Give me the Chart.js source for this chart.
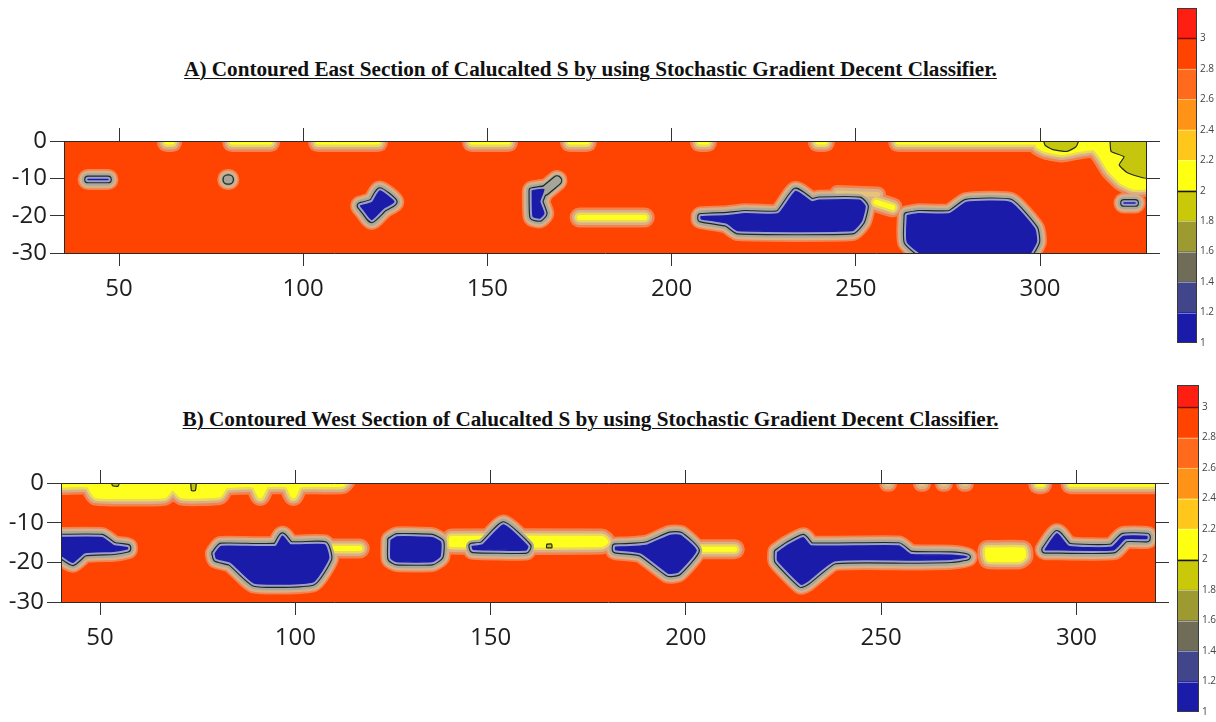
<!DOCTYPE html>
<html>
<head>
<meta charset="utf-8">
<script src="https://cdn.jsdelivr.net/npm/chart.js@4.4.1/dist/chart.umd.min.js"></script>
<style>
  html, body { margin: 0; padding: 0; background: #fff; width: 1216px; height: 722px; overflow: hidden; }
  canvas { position: absolute; }
  .title {
    position: absolute; left: 0; width: 1181px; text-align: center;
    font-family: 'Liberation Serif', 'Times New Roman', serif; font-weight: bold;
    font-size: 21.2px; line-height: 24px; color: #111;
    text-decoration: underline; text-decoration-thickness: 1px; text-underline-offset: 2px;
  }
</style>
</head>
<body>
<div class="title" style="top:57px">A) Contoured East Section of Calucalted S by using Stochastic Gradient Decent Classifier.</div>
<div class="title" style="top:407px">B) Contoured West Section of Calucalted S by using Stochastic Gradient Decent Classifier.</div>
<canvas id="east" width="1170" height="210" style="left:0;top:100px"></canvas>
<canvas id="west" width="1170" height="230" style="left:0;top:440px"></canvas>
<canvas id="eastBar" width="46" height="352" style="left:1170px;top:0"></canvas>
<canvas id="westBar" width="46" height="347" style="left:1170px;top:375px"></canvas>
<script>
// ---- section extents (distance along the line, depth) ----
const eastDistance = [35.07, 328.77];
const westDistance = [40.0, 320.1];
const depthRange = [-30, 0];
const distanceStep = 50;
const depthStep = 10;

// ---- East section: zones outlined as [distance, depth] rings or strokes ----
// S close to 1 (blue cores)
const eastLow = [
  [[41.6, -10.3], [47, -10.3]],
  [[115.6, -17.4], [118.8, -16.4], [120.8, -13.4], [124.6, -16.3], [121.8, -18], [118.6, -21], [116.6, -18.6]],
  [[162.2, -13.4], [165.3, -13], [164.2, -16.2], [165.3, -19.4], [164.2, -20.6], [162.4, -20.2]],
  [[208, -20.3], [215, -20], [220, -19.5], [229, -19.5], [233.7, -13.5], [238, -16.3], [240, -15.9],
   [251, -15.9], [252.5, -17.5], [251.5, -21.5], [249, -24], [218, -24], [215, -22], [208, -20.8]],
  [[264, -20], [267, -19.5], [275.5, -19.5], [280, -16.5], [292, -16.5], [298.5, -23.5], [299, -27],
   [296, -31.5], [270, -31.5], [264, -27]],
  [[322.8, -16.6], [325.8, -16.6]]
];
// S around 1.5 (grey spots)
const eastGrey = [
  [[79.5, -10.3], [79.8, -10.3]],
  [[165.6, -13.3], [168.9, -10.6]]
];
// S around 2 (yellow patches)
const eastMid = [
  [[63, -0.3], [64.4, -0.3]],
  [[80.7, -0.3], [91, -0.3]],
  [[104, -0.3], [120.3, -0.3]],
  [[145.8, -0.3], [155.6, -0.3]],
  [[172.4, -0.3], [177, -0.3]],
  [[207.7, -0.3], [209.6, -0.3]],
  [[239.7, -0.3], [241.6, -0.3]],
  [[261.5, -0.3], [300, -0.3]],
  [[175, -20.5], [192.7, -20.5]],
  [[255.5, -16.4], [260, -17.8]],
  [[299.5, 0.9], [329.3, 0.9], [329.3, -12], [325.3, -12.3], [322, -10.7], [319, -7.7], [316.6, -3.9],
   [314.7, -1.8], [310.3, -2.3], [306, -3.1], [301.6, -2.3], [299.5, -1.2]]
];
// S around 2.5 (pale rims)
const eastRim = [
  [[245, -13.9], [256, -14.3]]
];
// S between 1.8 and 2 (olive)
const eastOlive = [
  [[300.8, 0.9], [301.4, -1.2], [303.5, -2.3], [307.3, -2.8], [309.8, -1.5], [310.6, 0.9]],
  [[319, 0.9], [319.3, -2.8], [322.8, -4.2], [321.5, -6.4], [323.7, -8.5], [329.3, -9.9], [329.3, 0.9]]
];

// ---- West section ----
const westLow = [
  [[37, -13.8], [50.5, -13.8], [53.5, -15.8], [57, -16.3], [57, -16.6], [53.5, -17.2], [46, -17.6],
   [43, -20], [40, -18.2], [37, -17.8]],
  [[79.5, -17.8], [81, -16], [95, -16], [96.7, -13.4], [98.7, -15.6], [107.5, -15.6], [108.5, -19],
   [104.5, -24.9], [89.5, -25.2], [83.5, -20], [79.8, -19]],
  [[124.5, -14.5], [126, -13.6], [135, -13.8], [137.2, -15], [137, -18.5], [135, -19.8], [126, -19.8], [124.5, -19]],
  [[145.3, -16], [148, -15.6], [153.3, -10.6], [159.5, -16], [159, -16.9], [145.5, -16.7]],
  [[182, -16.2], [187, -16], [190.3, -15.6], [196, -13.2], [198.5, -13.2], [202.6, -17], [198, -22.4],
   [195.5, -22.7], [188.5, -17.6], [182, -16.8]],
  [[223.5, -17.5], [226, -15.8], [230, -13.8], [232, -15.9], [254.5, -15.9], [257.5, -18], [268, -18.2],
   [272, -18.6], [268, -19.2], [257.5, -19.4], [238, -19.6], [231, -24.8], [229.5, -25.5], [223.5, -19.5]],
  [[292, -16.8], [295, -12.8], [298, -16], [309, -16.2], [312, -13.5], [318, -13.5], [318, -14],
   [312.5, -14], [309.5, -16.8]]
];
const westGrey = [];
const westMid = [
  [[37, 1], [113, 1], [112, -0.3], [101, -0.5], [99.5, -3.3], [98, -0.5], [92.5, -0.5], [91, -3.3],
   [89.5, -0.5], [82, -0.8], [80.5, -3], [71, -3.2], [68.5, -1], [66.5, -3.2], [49, -3.2], [47, -0.5], [37, -0.5]],
  [[140, -14], [178.5, -14], [179.5, -14.8], [178.5, -15.5], [140, -15.5]],
  [[109, -16.5], [116.5, -16.5]],
  [[204, -16.7], [212.5, -16.7]],
  [[277.2, -16.9], [286.2, -16.9], [286.4, -18.5], [285.5, -19.2], [277.5, -19.2], [277.2, -18]],
  [[290.2, -0.3], [291.2, -0.3]],
  [[298.5, -0.3], [322, -0.3]]
];
const westRim = [
  [[251.5, -0.2], [252, -0.2]],
  [[260.2, -0.2], [260.7, -0.2]],
  [[265.8, -0.2], [266.3, -0.2]],
  [[271.2, -0.2], [271.7, -0.2]]
];
const westOlive = [
  [[52.8, 0.5], [53.2, -0.7], [54.6, -0.8], [55, 0.5]],
  [[73.2, 0.5], [73.4, -1.9], [74.4, -1.9], [74.6, 0.5]],
  [[164.4, -15.4], [165.6, -15.4], [165.7, -16.3], [164.3, -16.3]]
];

// ---- colour scale of S ----
const levelEdges = [1, 1.2, 1.4, 1.6, 1.8, 2, 2.2, 2.4, 2.6, 2.8, 3, 3.2];
const levelColors = ['#1b1ba9', '#41468a', '#6f6d57', '#9d9a32', '#c9c90a', '#ffff12',
                     '#ffc61c', '#ff9318', '#ff6a1c', '#ff4300', '#ff1e12'];
const levelTicks = [1, 1.2, 1.4, 1.6, 1.8, 2, 2.2, 2.4, 2.6, 2.8, 3];
const eastBarMax = 3.2;
const westBarMax = 3.145;

// ---- drawing styles ----
const BACKGROUND = '#ff4300';
const shade = {
  glow: '#f3824e', tan: '#d8af88', pale: '#ecd85c', cream: '#e6c27a', yellow: '#ffff1e',
  gray: '#a9a89c', dark: '#1f2a22', inner: '#9c9fc8', gray2: '#a6a59c', blue: '#1b1ba9', olive: '#c6c60e'
};
// one entry per drawing pass: zone kind -> [shade, stroke width, filled]
const passes = [
  { low: ['glow', 21], grey: ['glow', 21], mid: ['glow', 20], rim: ['glow', 16] },
  { low: ['tan', 17.5], grey: ['tan', 17.5], mid: ['tan', 15], rim: ['tan', 11] },
  { mid: ['pale', 10], rim: ['cream', 5] },
  { mid: ['yellow', 5, true] },
  { low: ['gray', 12.5], grey: ['gray', 12.5] },
  { low: ['dark', 7.8], grey: ['dark', 10.5] },
  { low: ['inner', 5.5], grey: ['gray2', 8] },
  { low: ['blue', 1.5, true] },
  { olive: ['olive', 1.2, true] }
];

function ring(pts) {
  return pts.length > 2 ? pts.concat([pts[0]]) : pts;
}

function zoneDatasets(zones) {
  const list = [];
  passes.forEach(pass => {
    Object.keys(pass).forEach(kind => {
      const [name, width, filled] = pass[kind];
      (zones[kind] || []).forEach(pts => {
        list.push({
          data: ring(pts).map(([x, y]) => ({ x, y })),
          xAxisID: 'x', yAxisID: 'y',
          borderColor: kind === 'olive' ? shade.dark : shade[name],
          backgroundColor: shade[name],
          borderWidth: width,
          fill: filled && pts.length > 2 ? 'shape' : false,
          pointRadius: 0,
          borderJoinStyle: 'round',
          borderCapStyle: 'round',
          tension: 0.15,
          clip: 0
        });
      });
    });
  });
  list.forEach((d, i) => { d.order = list.length - i; });
  return list;
}

const sectionBackground = {
  id: 'sectionBackground',
  beforeDatasetsDraw(chart) {
    const { ctx, chartArea: a } = chart;
    ctx.save();
    ctx.fillStyle = BACKGROUND;
    ctx.fillRect(a.left, a.top, a.width, a.height);
    ctx.restore();
  }
};

Chart.defaults.font.family = "'Open Sans', sans-serif";

function axisStyle(extra) {
  return Object.assign({
    type: 'linear',
    grid: { drawOnChartArea: false, color: '#333', lineWidth: 1, z: 1 },
    border: { display: true, color: '#2a2a2a', width: 1, z: 1 }
  }, extra);
}

function sectionChart(id, distance, zones, box) {
  const tickFont = { size: 24 };
  new Chart(document.getElementById(id), {
    type: 'line',
    data: { datasets: zoneDatasets(zones) },
    options: {
      responsive: false, animation: false, events: [],
      layout: { padding: 0 },
      plugins: { legend: { display: false }, tooltip: { enabled: false } },
      scales: {
        x: axisStyle({
          position: 'bottom', min: distance[0], max: distance[1],
          ticks: { stepSize: distanceStep, includeBounds: false, padding: 9, color: '#1e1e1e', font: tickFont },
          grid: { drawOnChartArea: false, color: '#333', tickLength: 13, z: 1 },
          afterFit(s) { s.height = box.bottom; s.paddingLeft = 0; s.paddingRight = 0; }
        }),
        xTop: axisStyle({
          position: 'top', min: distance[0], max: distance[1],
          ticks: { display: false, stepSize: distanceStep, includeBounds: false },
          grid: { drawOnChartArea: false, color: '#333', tickLength: 13, z: 1 },
          afterFit(s) { s.height = box.top; s.paddingLeft = 0; s.paddingRight = 0; }
        }),
        y: axisStyle({
          position: 'left', min: depthRange[0], max: depthRange[1],
          ticks: { stepSize: depthStep, padding: 3, color: '#1e1e1e', font: tickFont },
          grid: { drawOnChartArea: false, color: '#333', tickLength: 14, z: 1 },
          afterFit(s) { s.width = box.left; s.paddingTop = 0; s.paddingBottom = 0; }
        }),
        yRight: axisStyle({
          position: 'right', min: depthRange[0], max: depthRange[1],
          ticks: { display: false, stepSize: depthStep },
          grid: { drawOnChartArea: false, color: '#333', tickLength: 14, z: 1 },
          afterFit(s) { s.width = box.right; s.paddingTop = 0; s.paddingBottom = 0; }
        })
      }
    },
    plugins: [sectionBackground]
  });
}

// boundaries between colour classes, drawn over the key
const levelLineColors = levelTicks.map(v => v === 3 ? '#7a0c0c' : v === 2 ? '#151515' : 'rgba(255,255,255,0.4)');
const levelLines = {
  id: 'levelLines',
  afterDatasetsDraw(chart) {
    const { ctx, chartArea: a, scales: { y } } = chart;
    ctx.save();
    levelTicks.forEach((v, i) => {
      if (v === levelEdges[0]) return;
      const py = Math.round(y.getPixelForValue(v)) + 0.5;
      ctx.strokeStyle = levelLineColors[i];
      ctx.lineWidth = (v === 3 || v === 2) ? 1.5 : 1;
      ctx.beginPath(); ctx.moveTo(a.left, py); ctx.lineTo(a.right, py); ctx.stroke();
    });
    ctx.strokeStyle = '#3a3a3a';
    ctx.lineWidth = 1;
    ctx.strokeRect(a.left + 0.5, a.top + 0.5, a.width - 1, a.height - 1);
    ctx.restore();
  }
};

function colorKey(id, yMax, box) {
  new Chart(document.getElementById(id), {
    type: 'bar',
    data: {
      labels: ['S'],
      datasets: levelColors.map((c, i) => ({
        data: [[levelEdges[i], levelEdges[i + 1]]],
        backgroundColor: c, borderWidth: 0, grouped: false,
        barPercentage: 1, categoryPercentage: 1, clip: 0
      }))
    },
    options: {
      responsive: false, animation: false, events: [],
      layout: { padding: { left: box.left, top: box.top, bottom: box.bottom, right: 0 } },
      plugins: { legend: { display: false }, tooltip: { enabled: false } },
      scales: {
        x: { display: false },
        y: {
          position: 'right', min: levelEdges[0], max: yMax,
          grid: { display: false, drawTicks: false },
          border: { display: false },
          afterBuildTicks(s) { s.ticks = levelTicks.map(v => ({ value: v })); },
          ticks: { padding: 3, color: '#444', font: { size: 10 }, callback: v => String(v) },
          afterFit(s) { s.width = box.right; s.paddingTop = 0; s.paddingBottom = 0; }
        }
      }
    },
    plugins: [levelLines]
  });
}

sectionChart('east', eastDistance,
  { low: eastLow, grey: eastGrey, mid: eastMid, rim: eastRim, olive: eastOlive },
  { left: 64, right: 24, top: 41, bottom: 57 });
sectionChart('west', westDistance,
  { low: westLow, grey: westGrey, mid: westMid, rim: westRim, olive: westOlive },
  { left: 61, right: 15, top: 43, bottom: 68 });
colorKey('eastBar', eastBarMax, { left: 7, right: 19, top: 8, bottom: 9 });
colorKey('westBar', westBarMax, { left: 7, right: 17, top: 10, bottom: 10 });
</script>
</body>
</html>
